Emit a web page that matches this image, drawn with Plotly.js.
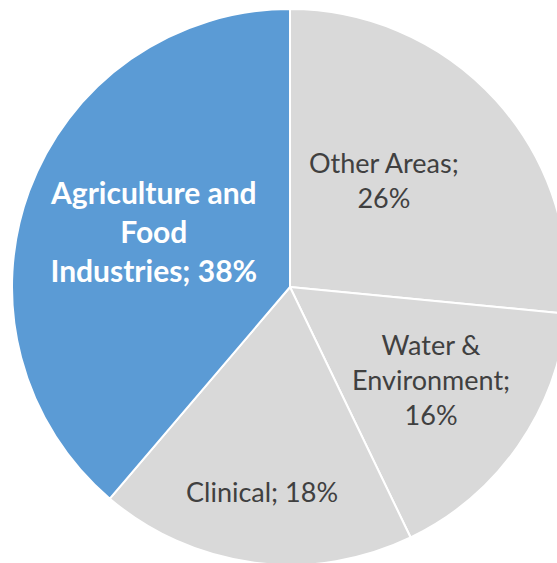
<!DOCTYPE html>
<html>
<head>
<meta charset="utf-8">
<script src="https://cdn.plot.ly/plotly-3.0.1.min.js"></script>
<style>
html, body { margin: 0; padding: 0; overflow: hidden; width: 557px; height: 563px; background: #fff; }
#chart { position: absolute; left: 12px; top: 9px; width: 556px; height: 556px; }
</style>
</head>
<body>
<div id="chart"></div>
<script>
const categories = ["Other Areas", "Water & Environment", "Clinical", "Agriculture and Food Industries"];
const shares = [26, 16, 18, 38];
const displayLabels = ["Other Areas;<br>26%", "Water &<br>Environment;<br>16%", "Clinical; 18%", "<b>Agriculture and<br>Food<br>Industries; 38%</b>"];

const SIZE = 556, LEFT = 12, TOP = 9;
// label anchor points in window pixels (layout only)
const labelPos = [[384, 180], [431, 379], [262, 491], [153, 231]];
const labelColors = ["#404040", "#404040", "#404040", "#FFFFFF"];
const labelSizes = [27, 27, 27, 30];

const trace = {
  type: "pie",
  labels: categories,
  values: shares,
  textinfo: "none",
  sort: false,
  direction: "clockwise",
  rotation: 0,
  marker: {
    colors: ["#D9D9D9", "#D9D9D9", "#D9D9D9", "#5B9BD5"],
    line: { color: "#FFFFFF", width: 2 }
  },
  showlegend: false,
  hoverinfo: "label+percent"
};

const annotations = displayLabels.map((t, i) => ({
  xref: "paper", yref: "paper",
  x: (labelPos[i][0] - LEFT) / SIZE,
  y: 1 - (labelPos[i][1] - TOP) / SIZE,
  xanchor: "center", yanchor: "middle",
  text: t, showarrow: false, align: "center",
  font: { family: "Lato, 'Open Sans', sans-serif", size: labelSizes[i], color: labelColors[i] }
}));

Plotly.newPlot("chart", [trace], {
  width: SIZE,
  height: SIZE,
  margin: { l: 0, r: 0, t: 0, b: 0, pad: 0 },
  paper_bgcolor: "rgba(0,0,0,0)",
  plot_bgcolor: "rgba(0,0,0,0)",
  showlegend: false,
  annotations: annotations
}, { displayModeBar: false, staticPlot: true });
</script>
</body>
</html>
